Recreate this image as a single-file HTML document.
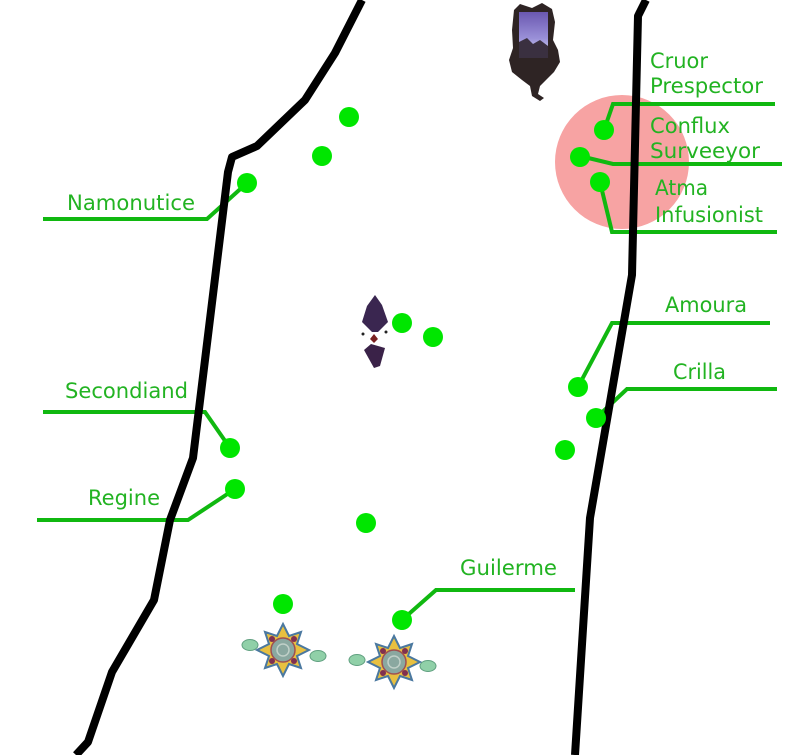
<!DOCTYPE html>
<html><head><meta charset="utf-8"><style>
html,body{margin:0;padding:0;background:#fff;}
svg{display:block;}
text{font-family:"DejaVu Sans","Liberation Sans",sans-serif;font-size:21px;fill:#22b322;}
</style></head><body>
<svg width="800" height="755" viewBox="0 0 800 755" xmlns="http://www.w3.org/2000/svg">
<defs>
<linearGradient id="pg" x1="0" y1="0" x2="0" y2="1">
<stop offset="0" stop-color="#6a58b0"/><stop offset="0.6" stop-color="#9a90d8"/><stop offset="1" stop-color="#d8e0f4"/>
</linearGradient>
</defs>
<rect width="800" height="755" fill="#fff"/>
<!-- pink circle -->
<circle cx="622" cy="162" r="67" fill="#f7a3a3"/>

<!-- top creature -->
<path d="M514,10 L520,4 L532,8 L542,3 L552,9 L555,22 L553,40 L558,50 L560,62 L554,72 L546,80 L540,86 L538,94 L544,98 L540,101 L532,96 L530,86 L522,80 L512,72 L509,60 L513,48 L512,30 Z" fill="#2e2424"/>
<rect x="519" y="12" width="29" height="44" fill="url(#pg)"/>
<path d="M519,42 L527,38 L533,44 L540,40 L548,46 L548,58 L519,58 Z" fill="#3a3040"/>

<!-- middle crystal -->
<polygon points="375,295 382,305 388,322 378,332 372,332 362,322 367,306" fill="#3a2650"/>
<polygon points="371,344 385,348 380,366 374,368 364,350" fill="#3a2248"/>
<polygon points="374,334 378,339 374,343 370,339" fill="#7a2020"/>
<circle cx="363" cy="334" r="1.5" fill="#222"/><circle cx="386" cy="332" r="1.5" fill="#222"/>

<!-- bottom emblems -->
<g transform="translate(283,650)">
<ellipse cx="-33" cy="-5" rx="8" ry="5.5" fill="#90d0a8" stroke="#60a080"/>
<ellipse cx="35" cy="6" rx="8" ry="5.5" fill="#90d0a8" stroke="#60a080"/>
<polygon points="0,-26 6,-14 18,-18 14,-6 26,0 14,6 18,18 6,14 0,26 -6,14 -18,18 -14,6 -26,0 -14,-6 -18,-18 -6,-14" fill="#e8c040" stroke="#4a78a0" stroke-width="2"/>
<circle r="12" fill="#8aa8a0" stroke="#a05050" stroke-width="1.5"/>
<circle r="6" fill="none" stroke="#c0d0c8" stroke-width="1.5"/>
<circle cx="-11" cy="-11" r="3" fill="#803050"/><circle cx="11" cy="-11" r="3" fill="#803050"/><circle cx="11" cy="11" r="3" fill="#803050"/><circle cx="-11" cy="11" r="3" fill="#803050"/>
</g>
<g transform="translate(394,662)">
<ellipse cx="-37" cy="-2" rx="8" ry="5.5" fill="#90d0a8" stroke="#60a080"/>
<ellipse cx="34" cy="4" rx="8" ry="5.5" fill="#90d0a8" stroke="#60a080"/>
<polygon points="0,-26 6,-14 18,-18 14,-6 26,0 14,6 18,18 6,14 0,26 -6,14 -18,18 -14,6 -26,0 -14,-6 -18,-18 -6,-14" fill="#e8c040" stroke="#4a78a0" stroke-width="2"/>
<circle r="12" fill="#8aa8a0" stroke="#a05050" stroke-width="1.5"/>
<circle r="6" fill="none" stroke="#c0d0c8" stroke-width="1.5"/>
<circle cx="-11" cy="-11" r="3" fill="#803050"/><circle cx="11" cy="-11" r="3" fill="#803050"/><circle cx="11" cy="11" r="3" fill="#803050"/><circle cx="-11" cy="11" r="3" fill="#803050"/>
</g>

<!-- green connector lines -->
<g fill="none" stroke="#10b810" stroke-width="4" stroke-linejoin="miter">
<polyline points="604,130 613,104 775,104"/>
<polyline points="580,156 613,164 782,164"/>
<polyline points="600,182 612,232 777,232"/>
<polyline points="247,183 207,219 43,219"/>
<polyline points="230,448 205,412 43,412"/>
<polyline points="235,489 188,520 37,520"/>
<polyline points="578,387 612,323 770,323"/>
<polyline points="596,418 627,389 777,389"/>
<polyline points="402,620 436,590 575,590"/>
</g>

<!-- black boundary lines -->
<g fill="none" stroke="#000" stroke-width="8" stroke-linejoin="round">
<polyline points="362,0 335,53 305,100 257,146 232,157 228,172 193,458 170,520 154,600 112,672 88,742 76,755"/>
<polyline points="646,0 638,16 632,275 590,518 575,755"/>
</g>

<!-- green dots -->
<g fill="#00e600">
<circle cx="349" cy="117" r="10"/>
<circle cx="322" cy="156" r="10"/>
<circle cx="247" cy="183" r="10"/>
<circle cx="604" cy="130" r="10"/>
<circle cx="580" cy="157" r="10"/>
<circle cx="600" cy="182" r="10"/>
<circle cx="402" cy="323" r="10"/>
<circle cx="433" cy="337" r="10"/>
<circle cx="578" cy="387" r="10"/>
<circle cx="596" cy="418" r="10"/>
<circle cx="565" cy="450" r="10"/>
<circle cx="230" cy="448" r="10"/>
<circle cx="235" cy="489" r="10"/>
<circle cx="366" cy="523" r="10"/>
<circle cx="283" cy="604" r="10"/>
<circle cx="402" cy="620" r="10"/>
</g>

<!-- labels -->
<text x="650" y="68" textLength="58" lengthAdjust="spacingAndGlyphs">Cruor</text>
<text x="650" y="93" textLength="113" lengthAdjust="spacingAndGlyphs">Prespector</text>
<text x="650" y="133" textLength="80" lengthAdjust="spacingAndGlyphs">Conflux</text>
<text x="650" y="158" textLength="110" lengthAdjust="spacingAndGlyphs">Surveeyor</text>
<text x="655" y="195" textLength="53" lengthAdjust="spacingAndGlyphs">Atma</text>
<text x="655" y="222" textLength="108" lengthAdjust="spacingAndGlyphs">Infusionist</text>
<text x="67" y="210" textLength="128" lengthAdjust="spacingAndGlyphs">Namonutice</text>
<text x="65" y="398" textLength="123" lengthAdjust="spacingAndGlyphs">Secondiand</text>
<text x="88" y="505" textLength="72" lengthAdjust="spacingAndGlyphs">Regine</text>
<text x="665" y="312" textLength="82" lengthAdjust="spacingAndGlyphs">Amoura</text>
<text x="673" y="379" textLength="53" lengthAdjust="spacingAndGlyphs">Crilla</text>
<text x="460" y="575" textLength="97" lengthAdjust="spacingAndGlyphs">Guilerme</text>
</svg>
</body></html>
